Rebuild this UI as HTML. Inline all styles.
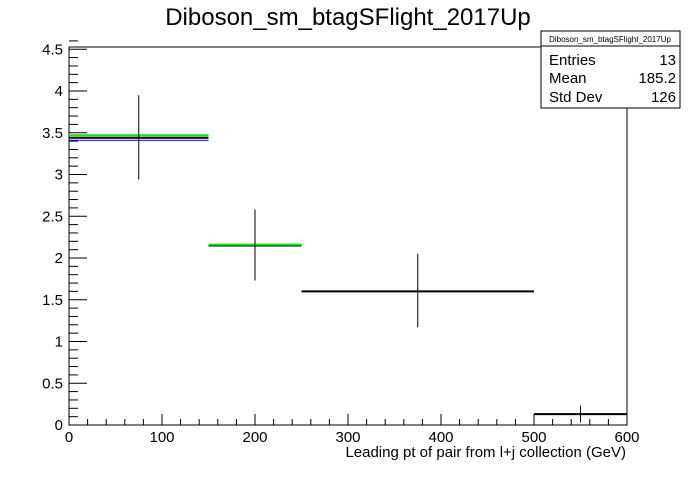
<!DOCTYPE html>
<html><head><meta charset="utf-8"><style>
body{margin:0;background:#fff;}
svg text{font-family:"Liberation Sans",sans-serif;}
</style></head><body>
<svg id="c" width="696" height="472" xmlns="http://www.w3.org/2000/svg">
<text x="348" y="25" font-size="24" text-anchor="middle">Diboson_sm_btagSFlight_2017Up</text>
<rect x="69" y="47" width="558" height="378" fill="none" stroke="#000" stroke-width="1"/>
<g id="axes"></g>
<g id="marks"></g>
<text x="626" y="457" font-size="15" text-anchor="end">Leading pt of pair from l+j collection (GeV)</text>
<g>
<rect x="541" y="31" width="139" height="77" fill="#fff" stroke="#000"/>
<line x1="541" y1="46" x2="680" y2="46" stroke="#000"/>
<text x="610" y="42" font-size="8" text-anchor="middle">Diboson_sm_btagSFlight_2017Up</text>
<text x="549" y="65" font-size="15">Entries</text><text x="676" y="65" font-size="15" text-anchor="end">13</text>
<text x="549" y="83" font-size="15">Mean</text><text x="676" y="83" font-size="15" text-anchor="end">185.2</text>
<text x="549" y="102" font-size="15">Std Dev</text><text x="676" y="102" font-size="15" text-anchor="end">126</text>
</g>
</svg>
<script>
const binEdges=[0,150,250,500,600];
const blackVals=[3.44,2.15,1.6,0.13];
const greenVals=[3.47,2.16,null,null];
const blueVals=[3.41,null,null,null];
const errLow=[2.94,1.73,1.17,0.03];
const errHigh=[3.95,2.58,2.05,0.23];
const xTicks=[0,100,200,300,400,500,600];
const yTicks=[0,0.5,1,1.5,2,2.5,3,3.5,4,4.5];
const X=v=>69+v*558/600;
const Y=v=>425-v*83.5;
const NS="http://www.w3.org/2000/svg";
function mk(p,t,a){const e=document.createElementNS(NS,t);for(const k in a)e.setAttribute(k,a[k]);p.appendChild(e);return e;}
const ax=document.getElementById('axes'),mg=document.getElementById('marks');
xTicks.forEach(t=>{
 const l=mk(ax,'line',{x1:X(t),x2:X(t),y1:425,y2:414,stroke:'#000'});
 
 
 const tx=mk(ax,'text',{x:X(t),y:442,'font-size':15,'text-anchor':'middle'});tx.textContent=t;
 
 
});
for(let v=0;v<600;v+=20){if(v%100)mk(ax,'line',{x1:X(v),x2:X(v),y1:425,y2:419,stroke:'#000'});}
yTicks.forEach(t=>{
 const l=mk(ax,'line',{x1:69,x2:87,y1:Y(t),y2:Y(t),stroke:'#000'});
 
 
 const tx=mk(ax,'text',{x:63,y:Y(t)+5,'font-size':15,'text-anchor':'end'});tx.textContent=t;
 
 
});
for(let v=0;v<=4.6;v+=0.1){const r=Math.round(v*10);if(r%5)mk(ax,'line',{x1:69,x2:78,y1:Y(v),y2:Y(v),stroke:'#000'});}
function series(vals,col,name,w){vals.forEach((v,i)=>{if(v==null)return;
 const l=mk(mg,'line',{x1:X(binEdges[i]),x2:X(binEdges[i+1]),y1:Y(v),y2:Y(v),stroke:col,'stroke-width':w});
 
 });}
series(blueVals,'#00c','bin-blue',1);
series(blackVals,'#000','bin-black',2);
series(greenVals,'#0e0','bin-green',2);
errLow.forEach((lo,i)=>{const c=(binEdges[i]+binEdges[i+1])/2;
 const l=mk(mg,'line',{x1:X(c),x2:X(c),y1:Y(lo),y2:Y(errHigh[i]),stroke:'#000'});
 
 });
</script>
</body></html>
